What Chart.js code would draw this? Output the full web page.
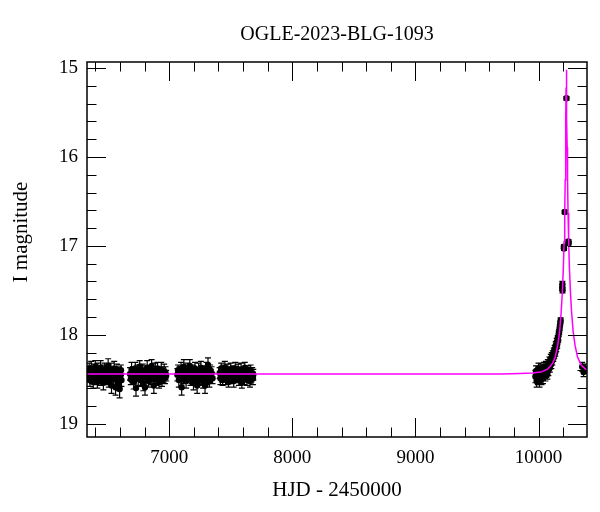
<!DOCTYPE html>
<html>
<head>
<meta charset="utf-8">
<script src="https://cdn.jsdelivr.net/npm/chart.js@4.4.1/dist/chart.umd.min.js"></script>
<style>
  body { margin: 0; background: #fff; }
  #wrap { width: 600px; height: 512px; }
</style>
</head>
<body>
<div id="wrap"><canvas id="lc"></canvas></div>
<script>
// OGLE photometry: HJD - 2450000, I mag, error
const hjd = [
  6340, 6345, 6350, 6356, 6361, 6366, 6372, 6377, 6383, 6388, 6394, 6399, 6405, 6410, 6416, 6421, 6427, 6432, 6438, 6443,
  6449, 6454, 6460, 6465, 6471, 6476, 6482, 6487, 6493, 6498, 6504, 6509, 6515, 6520, 6526, 6531, 6537, 6542, 6548, 6553,
  6559, 6564, 6570, 6575, 6581, 6586, 6592, 6597, 6603, 6608, 6612,
  6682, 6688, 6694, 6700, 6706, 6712, 6718, 6724, 6730, 6736, 6742, 6748, 6754, 6760, 6766, 6772, 6778, 6784, 6790, 6796,
  6803, 6809, 6815, 6821, 6827, 6833, 6839, 6845, 6851, 6857, 6863, 6869, 6875, 6881, 6887, 6893, 6899, 6905, 6911, 6917,
  6923, 6929, 6935, 6941, 6947, 6953, 6959, 6965, 6970, 6975,
  7066, 7072, 7078, 7084, 7090, 7096, 7101, 7107, 7113, 7119, 7125, 7131, 7137, 7143, 7149, 7155, 7161, 7167, 7173, 7179,
  7185, 7191, 7197, 7203, 7209, 7215, 7221, 7227, 7233, 7239, 7245, 7251, 7257, 7263, 7269, 7275, 7281, 7287, 7291, 7297,
  7303, 7309, 7315, 7320, 7326, 7332, 7338, 7344, 7352,
  7410, 7416, 7422, 7428, 7434, 7440, 7446, 7452, 7458, 7464, 7470, 7476, 7482, 7488, 7494, 7500, 7506, 7512, 7518, 7524,
  7530, 7536, 7542, 7548, 7554, 7560, 7566, 7572, 7578, 7584, 7590, 7596, 7602, 7608, 7614, 7620, 7626, 7632, 7638, 7644,
  7650, 7656, 7662, 7668, 7674, 7680, 7683,
  9975, 9980, 9985, 9990, 9995, 10000, 10004, 10008, 10012, 10016, 10020, 10024, 10028, 10032, 10036, 10040, 10044, 10048,
  10052, 10056, 10060, 10064, 10068, 10072, 10076, 10080, 10084, 10088, 10092, 10096, 10100, 10104, 10108, 10112, 10116,
  10120, 10124, 10128, 10132, 10136, 10140, 10144, 10148, 10152, 10156, 10160, 10164, 10168, 10172, 10176, 10180,
  10193, 10194, 10195, 10206, 10207, 10213, 10227, 10243, 10244, 10355, 10366, 10378
];
const mag = [
  18.42, 18.47, 18.40, 18.51, 18.45, 18.38, 18.48, 18.43, 18.53, 18.41, 18.46, 18.36, 18.49, 18.44, 18.52, 18.39, 18.47, 18.43, 18.50, 18.37,
  18.45, 18.48, 18.41, 18.54, 18.44, 18.39, 18.47, 18.50, 18.42, 18.46, 18.35, 18.52, 18.44, 18.48, 18.40, 18.57, 18.45, 18.43, 18.50, 18.38,
  18.47, 18.59, 18.44, 18.41, 18.49, 18.55, 18.43, 18.61, 18.46, 18.40, 18.51,
  18.44, 18.50, 18.39, 18.47, 18.42, 18.53, 18.45, 18.38, 18.60, 18.46, 18.41, 18.49, 18.44, 18.36, 18.51, 18.43, 18.47, 18.40, 18.55, 18.45,
  18.59, 18.42, 18.48, 18.37, 18.46, 18.52, 18.41, 18.44, 18.49, 18.35, 18.47, 18.43, 18.57, 18.45, 18.40, 18.50, 18.44, 18.38, 18.48, 18.53,
  18.42, 18.46, 18.39, 18.51, 18.44, 18.47, 18.41, 18.49, 18.43, 18.46,
  18.45, 18.40, 18.51, 18.43, 18.47, 18.38, 18.59, 18.44, 18.49, 18.36, 18.46, 18.42, 18.52, 18.45, 18.39, 18.48, 18.43, 18.35, 18.50, 18.44,
  18.47, 18.41, 18.54, 18.45, 18.38, 18.49, 18.43, 18.57, 18.46, 18.40, 18.51, 18.44, 18.37, 18.48, 18.42, 18.53, 18.45, 18.41, 18.57, 18.46,
  18.39, 18.50, 18.34, 18.44, 18.52, 18.40, 18.47, 18.43, 18.49,
  18.43, 18.49, 18.38, 18.46, 18.51, 18.41, 18.45, 18.37, 18.50, 18.44, 18.47, 18.40, 18.53, 18.43, 18.46, 18.39, 18.49, 18.44, 18.41, 18.52,
  18.45, 18.38, 18.48, 18.43, 18.46, 18.40, 18.51, 18.44, 18.47, 18.39, 18.54, 18.45, 18.42, 18.49, 18.37, 18.46, 18.43, 18.50, 18.41, 18.47,
  18.44, 18.52, 18.40, 18.46, 18.43, 18.49, 18.45,
  18.47, 18.41, 18.52, 18.44, 18.49, 18.38, 18.46, 18.53, 18.42, 18.47, 18.40, 18.50, 18.44, 18.39, 18.48, 18.43, 18.37, 18.45,
  18.41, 18.46, 18.36, 18.42, 18.38, 18.44, 18.33, 18.40, 18.35, 18.30, 18.37, 18.31, 18.27, 18.33, 18.25, 18.29, 18.22,
  18.26, 18.19, 18.23, 18.16, 18.20, 18.12, 18.15, 18.08, 18.11, 18.04, 18.06, 17.99, 17.97, 17.92, 17.88, 17.84,
  17.47, 17.43, 17.50, 17.01, 17.03, 16.62, 15.34, 16.95, 16.97, 18.36, 18.42, 18.38
];
const err = [
  0.07, 0.06, 0.08, 0.07, 0.06, 0.08, 0.07, 0.06, 0.07, 0.08, 0.06, 0.07, 0.07, 0.06, 0.08, 0.07, 0.06, 0.07, 0.07, 0.08,
  0.06, 0.07, 0.07, 0.08, 0.06, 0.07, 0.08, 0.06, 0.07, 0.07, 0.08, 0.07, 0.06, 0.07, 0.08, 0.09, 0.06, 0.07, 0.07, 0.08,
  0.06, 0.09, 0.07, 0.08, 0.06, 0.08, 0.07, 0.10, 0.07, 0.06, 0.07,
  0.07, 0.06, 0.08, 0.07, 0.06, 0.08, 0.07, 0.07, 0.09, 0.06, 0.07, 0.08, 0.06, 0.07, 0.07, 0.08, 0.06, 0.07, 0.08, 0.06,
  0.09, 0.07, 0.06, 0.08, 0.07, 0.07, 0.06, 0.08, 0.07, 0.07, 0.06, 0.07, 0.09, 0.06, 0.08, 0.07, 0.06, 0.07, 0.08, 0.07,
  0.06, 0.07, 0.08, 0.07, 0.06, 0.07, 0.08, 0.06, 0.07, 0.06,
  0.07, 0.06, 0.08, 0.07, 0.06, 0.07, 0.09, 0.07, 0.06, 0.08, 0.07, 0.06, 0.08, 0.07, 0.07, 0.06, 0.08, 0.07, 0.07, 0.06,
  0.08, 0.07, 0.08, 0.06, 0.07, 0.07, 0.06, 0.09, 0.07, 0.08, 0.06, 0.07, 0.07, 0.08, 0.06, 0.07, 0.07, 0.06, 0.09, 0.07,
  0.08, 0.06, 0.08, 0.07, 0.07, 0.06, 0.08, 0.07, 0.06,
  0.06, 0.07, 0.06, 0.07, 0.06, 0.07, 0.06, 0.07, 0.06, 0.07, 0.06, 0.07, 0.06, 0.07, 0.06, 0.07, 0.06, 0.07, 0.06, 0.07,
  0.06, 0.07, 0.06, 0.07, 0.06, 0.07, 0.06, 0.07, 0.06, 0.07, 0.06, 0.07, 0.06, 0.07, 0.06, 0.07, 0.06, 0.07, 0.06, 0.07,
  0.06, 0.07, 0.06, 0.07, 0.06, 0.07, 0.06,
  0.07, 0.06, 0.07, 0.06, 0.07, 0.06, 0.07, 0.06, 0.07, 0.06, 0.07, 0.06, 0.07, 0.06, 0.07, 0.06, 0.06, 0.07,
  0.06, 0.06, 0.06, 0.06, 0.05, 0.06, 0.05, 0.06, 0.05, 0.05, 0.05, 0.05, 0.05, 0.05, 0.05, 0.05, 0.04,
  0.04, 0.04, 0.04, 0.04, 0.04, 0.04, 0.04, 0.04, 0.04, 0.03, 0.03, 0.03, 0.03, 0.03, 0.03, 0.03,
  0.03, 0.03, 0.03, 0.02, 0.02, 0.02, 0.02, 0.02, 0.02, 0.05, 0.05, 0.05
];

// model light curve
const modelHjd = [6332, 9700, 9850, 9950, 10020, 10070, 10100, 10118, 10136, 10156, 10171, 10184, 10194, 10202, 10208, 10213,
  10217, 10220, 10222, 10224, 10225.5, 10226.5, 10227.5, 10229, 10231, 10233, 10236, 10240, 10245, 10251, 10259, 10269,
  10282, 10297, 10317, 10346, 10394];
const modelMag = [18.44, 18.44, 18.435, 18.43, 18.42, 18.39, 18.35, 18.31, 18.25, 18.12, 17.97, 17.75, 17.51, 17.24, 16.95, 16.63,
  16.26, 15.89, 15.57, 15.22, 15.07, 15.02, 15.07, 15.22, 15.57, 15.89, 16.26, 16.63, 16.95, 17.24, 17.51, 17.75,
  17.97, 18.12, 18.25, 18.34, 18.40];

const xRange = [6332, 10394];
const yRange = [14.932, 19.15];
const xTicks = [7000, 8000, 9000, 10000];
const yTicks = [15, 16, 17, 18, 19];
const xMinor = 200, yMinor = 0.2;

const serif = "'Liberation Serif', 'DejaVu Serif', serif";
Chart.defaults.color = '#000';
Chart.defaults.font.family = serif;

const obs = hjd.map((t, i) => ({ x: t, y: mag[i] }));
const model = modelHjd.map((t, i) => ({ x: t, y: modelMag[i] }));

const smPlot = {
  id: 'smPlot',
  beforeDatasetsDraw(chart) {
    // error bars under the points
    const { ctx, chartArea: a, scales: { x, y } } = chart;
    ctx.save();
    ctx.beginPath();
    ctx.rect(a.left, a.top, a.right - a.left, a.bottom - a.top);
    ctx.clip();
    ctx.strokeStyle = '#000';
    ctx.lineWidth = 1.2;
    ctx.beginPath();
    for (let i = 0; i < hjd.length; i++) {
      const px = x.getPixelForValue(hjd[i]);
      const y1 = y.getPixelForValue(mag[i] - err[i]);
      const y2 = y.getPixelForValue(mag[i] + err[i]);
      ctx.moveTo(px, y1); ctx.lineTo(px, y2);
      ctx.moveTo(px - 3, y1); ctx.lineTo(px + 3, y1);
      ctx.moveTo(px - 3, y2); ctx.lineTo(px + 3, y2);
    }
    ctx.stroke();
    ctx.restore();
  },
  afterDraw(chart) {
    const { ctx, chartArea: a, scales: { x, y } } = chart;
    ctx.save();
    ctx.strokeStyle = '#000';
    ctx.lineWidth = 1;
    ctx.beginPath();
    // inward ticks on all four sides
    for (let k = Math.ceil(x.min / xMinor); k * xMinor <= x.max; k++) {
      const v = k * xMinor;
      const len = xTicks.includes(v) ? 19 : 9.5;
      const px = Math.round(x.getPixelForValue(v)) + 0.5;
      ctx.moveTo(px, a.bottom); ctx.lineTo(px, a.bottom - len);
      ctx.moveTo(px, a.top); ctx.lineTo(px, a.top + len);
    }
    for (let k = Math.ceil(y.min / yMinor - 1e-6); k * yMinor <= y.max + 1e-6; k++) {
      const v = Math.round(k * yMinor * 10) / 10;
      const len = yTicks.includes(v) ? 19 : 9.5;
      const py = Math.round(y.getPixelForValue(v)) + 0.5;
      ctx.moveTo(a.left, py); ctx.lineTo(a.left + len, py);
      ctx.moveTo(a.right, py); ctx.lineTo(a.right - len, py);
    }
    ctx.stroke();
    ctx.lineWidth = 1.5;
    ctx.strokeRect(a.left, a.top, a.right - a.left, a.bottom - a.top);

    // y axis label, placed like the original
    ctx.fillStyle = '#000';
    ctx.font = '21px ' + serif;
    ctx.textAlign = 'center';
    ctx.textBaseline = 'alphabetic';
    ctx.translate(27, 232);
    ctx.rotate(-Math.PI / 2);
    ctx.fillText('I magnitude', 0, 0);
    ctx.restore();
  }
};

new Chart(document.getElementById('lc'), {
  type: 'scatter',
  data: {
    datasets: [
      {
        label: 'model',
        data: model,
        showLine: true,
        borderColor: '#ff00ff',
        borderWidth: 1.5,
        pointRadius: 0,
        tension: 0
      },
      {
        label: 'OGLE I',
        data: obs,
        pointRadius: 3.2,
        pointBackgroundColor: '#000',
        pointBorderWidth: 0
      }
    ]
  },
  options: {
    responsive: true,
    maintainAspectRatio: false,
    animation: false,
    layout: { padding: { left: 0, right: 13, top: 0, bottom: 0 } },
    plugins: {
      legend: { display: false },
      tooltip: { enabled: false },
      title: {
        display: true,
        text: 'OGLE-2023-BLG-1093',
        fullSize: false,
        font: { size: 20, weight: 'normal' },
        padding: { top: 23, bottom: 15 }
      }
    },
    scales: {
      x: {
        type: 'linear',
        min: xRange[0],
        max: xRange[1],
        grid: { display: false, drawTicks: false },
        border: { display: false },
        afterBuildTicks(scale) { scale.ticks = xTicks.map(v => ({ value: v })); },
        ticks: { padding: 10, font: { size: 19 }, maxRotation: 0, autoSkip: false, callback: v => String(v) },
        title: { display: true, text: 'HJD - 2450000', font: { size: 21 }, padding: { top: 0, bottom: 9 } },
        afterFit(scale) { scale.height = 75; }
      },
      y: {
        type: 'linear',
        reverse: true,
        min: yRange[0],
        max: yRange[1],
        grid: { display: false, drawTicks: false },
        border: { display: false },
        afterBuildTicks(scale) { scale.ticks = yTicks.map(v => ({ value: v })); },
        ticks: { padding: 9, font: { size: 19 }, autoSkip: false, callback: v => String(v) },
        afterFit(scale) { scale.width = 87; }
      }
    }
  },
  plugins: [smPlot]
});
</script>
</body>
</html>
